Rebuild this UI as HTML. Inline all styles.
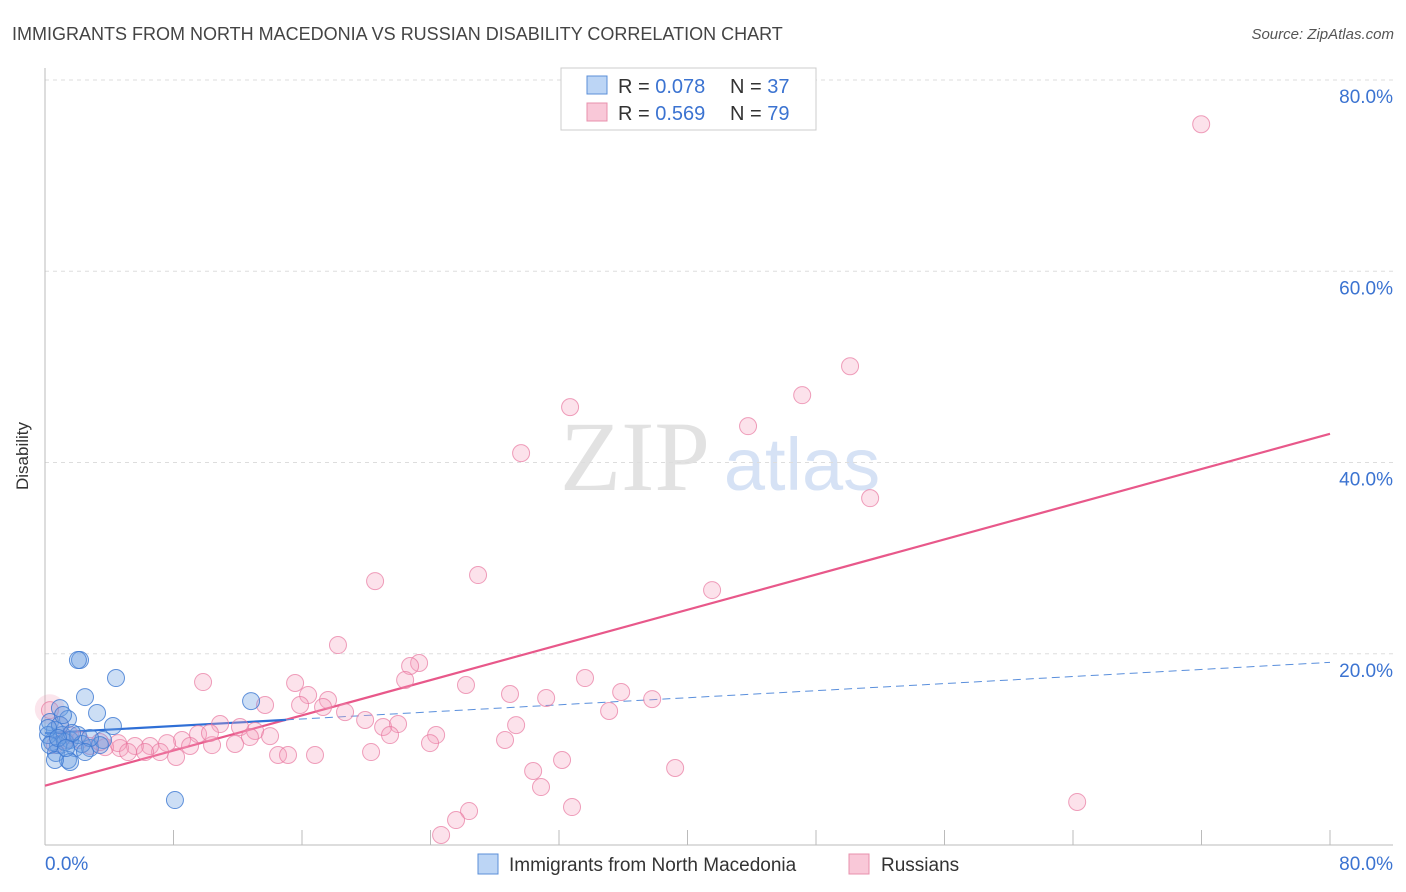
<!DOCTYPE html>
<html><head><meta charset="utf-8"><style>
body{margin:0;background:#fff;font-family:"Liberation Sans",sans-serif}
svg{display:block}
</style></head><body>
<svg id="c" width="1406" height="892">
<text x="12" y="40" font-size="18" fill="#444">IMMIGRANTS FROM NORTH MACEDONIA VS RUSSIAN DISABILITY CORRELATION CHART</text>
<text x="1394" y="39" font-size="15" fill="#555" font-style="italic" text-anchor="end">Source: ZipAtlas.com</text>
<text x="28" y="456" font-size="17" fill="#333" text-anchor="middle" transform="rotate(-90 28 456)">Disability</text>
<g>
<text x="635" y="490" font-size="100" fill="#e2e2e2" font-family="Liberation Serif,serif" text-anchor="middle">ZIP</text>
<text x="802" y="490" font-size="74" fill="#d6e2f5" text-anchor="middle">atlas</text>
</g>
<g id="grid"></g><g id="axes"></g><g id="trend"></g><g id="pts"></g>
<g>
<rect x="561" y="68" width="255" height="62" fill="#fff" stroke="#ccc"/>
<rect x="587" y="76" width="20" height="18" fill="#bcd5f5" stroke="#5b8fd8"/>
<rect x="587" y="103" width="20" height="18" fill="#f9c8d8" stroke="#e890ad"/>
<text x="618" y="93" font-size="20" fill="#333">R = <tspan fill="#3b73d1">0.078</tspan><tspan x="730">N = </tspan><tspan fill="#3b73d1">37</tspan></text>
<text x="618" y="120" font-size="20" fill="#333">R = <tspan fill="#3b73d1">0.569</tspan><tspan x="730">N = </tspan><tspan fill="#3b73d1">79</tspan></text>
</g>
<g>
<rect x="478" y="854" width="20" height="20" fill="#bcd5f5" stroke="#5b8fd8"/>
<text x="509" y="871" font-size="19" fill="#333">Immigrants from North Macedonia</text>
<rect x="849" y="854" width="20" height="20" fill="#f9c8d8" stroke="#e890ad"/>
<text x="881" y="871" font-size="19" fill="#333">Russians</text>
</g>
</svg>
<script>
const yTicks=[20,40,60,80];
const xTickLabels=["0.0%","80.0%"];
const blueX=[2.18,2.05,4.42,2.49,3.24,12.83,0.93,1.43,4.23,0.31,0.62,1.06,1.56,0.81,0.44,1.87,2.80,3.61,3.42,0.68,1.43,1.56,8.09,0.19,0.31,1.25,2.05,0.93,2.30,2.80,0.62,1.12,0.19,1.68,0.81,1.31,2.49];
const blueY=[19.34,19.34,17.46,15.47,13.80,15.05,14.32,13.17,12.44,12.86,12.02,11.50,10.98,10.45,10.77,10.14,10.14,10.98,10.45,9.62,8.89,8.68,4.70,11.50,10.45,10.77,11.50,12.54,10.56,11.19,8.89,13.59,12.23,11.71,11.19,10.14,9.72];
const pinkX=[71.98,50.12,47.14,32.69,43.77,29.64,51.37,20.55,26.96,41.53,18.24,23.29,22.73,9.84,33.62,15.57,22.42,26.21,28.95,35.87,31.20,37.80,16.38,17.62,13.70,15.88,17.31,18.68,35.12,10.90,12.14,19.93,21.05,21.98,29.33,13.08,12.76,14.01,9.53,8.53,7.60,24.35,21.48,28.64,23.97,10.40,9.03,11.83,6.54,5.60,4.67,3.74,2.80,4.55,7.16,8.16,14.51,15.13,16.81,20.30,32.19,30.39,39.23,30.88,32.81,26.40,25.59,24.66,64.26,0.31,0.93,1.56,0.62,2.18,1.25,3.42,5.17,6.23,10.27];
const pinkY=[75.37,50.07,47.04,45.79,43.80,40.98,36.27,27.60,28.23,26.66,20.91,19.03,18.72,17.04,17.46,16.94,17.25,16.73,15.79,16.00,15.37,15.26,15.68,15.16,14.64,14.64,14.43,13.90,14.01,12.65,12.34,13.07,12.34,12.65,12.54,11.92,11.29,11.39,11.60,10.98,10.66,11.50,11.50,10.98,10.66,10.45,10.35,10.56,10.35,10.35,10.14,10.24,10.35,10.66,9.72,9.20,9.41,9.41,9.41,9.72,8.89,7.74,8.05,6.06,3.97,3.55,2.61,1.05,4.50,14.11,12.54,11.50,10.45,10.98,10.98,10.77,9.72,9.72,11.71];
const blueTrend=[11.7,19.1];   // value at x=0 and x=80
const blueSolidEnd=15;
const pinkTrend=[6.2,43.0];
const X=v=>45+v*(1330-45)/80;
const Y=v=>845-v*(845-80)/80;
const NS="http://www.w3.org/2000/svg";
function mk(parent,tag,attrs){const e=document.createElementNS(NS,tag);for(const k in attrs)e.setAttribute(k,attrs[k]);document.getElementById(parent).appendChild(e);return e;}
yTicks.forEach(t=>{
  const l=mk('grid','line',{x1:45,x2:1393,y1:Y(t),y2:Y(t),stroke:'#ddd','stroke-dasharray':'4 4'});
  
  
  const tx=mk('grid','text',{x:1393,y:Y(t)+23,'font-size':19,fill:'#3b73d1','text-anchor':'end'});
  tx.textContent=t.toFixed(1)+'%';
  
  
});
const ax=mk('axes','line',{x1:45,x2:45,y1:68,y2:845,stroke:'#bbb'});


const bx=mk('axes','line',{x1:45,x2:1393,y1:845,y2:845,stroke:'#bbb'});


for(let v=8;v<=80;v+=8){
  const t=mk('axes','line',{x1:X(v),x2:X(v),y1:845,y2:830,stroke:'#bbb'});
  
  
}
const xl0=mk('axes','text',{x:45,y:870,'font-size':19,fill:'#3b73d1'});
xl0.textContent=xTickLabels[0];


const xl1=mk('axes','text',{x:1393,y:870,'font-size':19,fill:'#3b73d1','text-anchor':'end'});
xl1.textContent=xTickLabels[1];


const big=mk('pts','circle',{cx:X(0.3),cy:Y(14.2),r:15,fill:'rgba(240,150,180,0.25)'});


pinkX.forEach((x,i)=>{
  const c=mk('pts','circle',{cx:X(x),cy:Y(pinkY[i]),r:8.5,fill:'rgba(244,160,188,0.3)',stroke:'rgba(232,120,160,0.7)','stroke-width':1});
  
  
});
blueX.forEach((x,i)=>{
  const c=mk('pts','circle',{cx:X(x),cy:Y(blueY[i]),r:8.5,fill:'rgba(110,160,225,0.35)',stroke:'rgba(60,120,210,0.8)','stroke-width':1});
  
  
});
const bAt=x=>blueTrend[0]+(blueTrend[1]-blueTrend[0])*x/80;
const pl=mk('trend','line',{x1:X(0),y1:Y(pinkTrend[0]),x2:X(80),y2:Y(pinkTrend[1]),stroke:'#e8588a','stroke-width':2.2});


const bl=mk('trend','line',{x1:X(0),y1:Y(bAt(0)),x2:X(blueSolidEnd),y2:Y(bAt(blueSolidEnd)),stroke:'#2f6fd6','stroke-width':2.2});


const bd=mk('trend','line',{x1:X(blueSolidEnd),y1:Y(bAt(blueSolidEnd)),x2:X(80),y2:Y(bAt(80)),stroke:'#5a8fdc','stroke-width':1,'stroke-dasharray':'8 5'});


</script>
</body></html>
